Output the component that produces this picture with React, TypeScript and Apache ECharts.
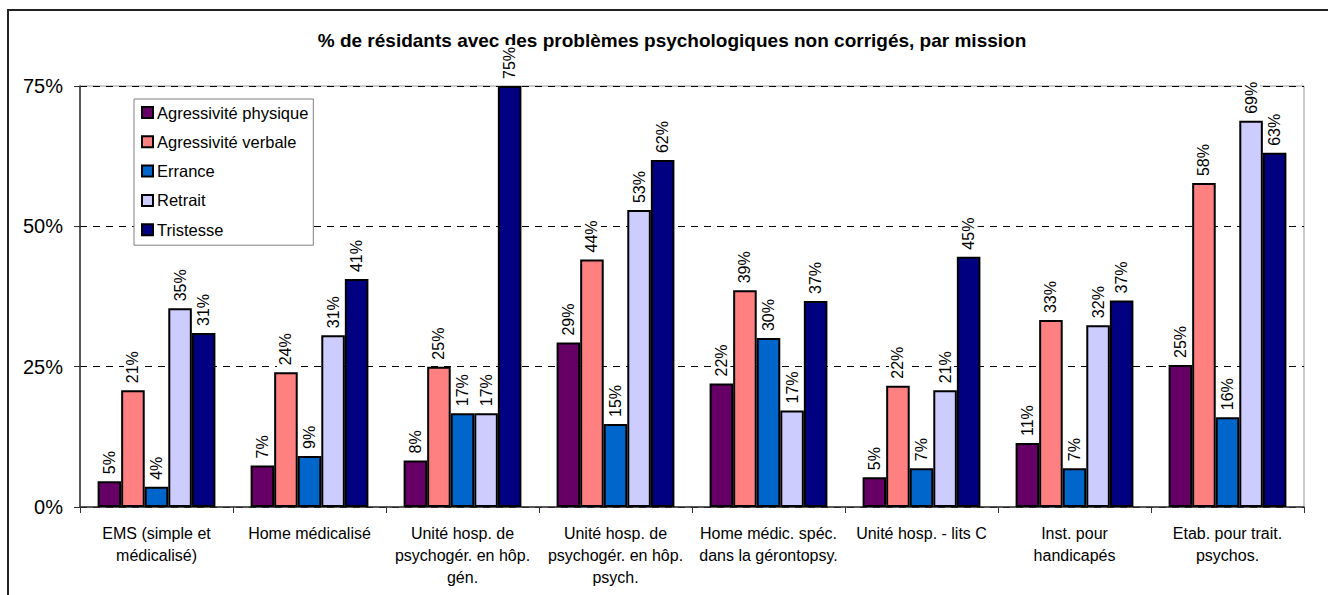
import React, { useEffect, useRef } from "react";
import * as echarts from "echarts";

const categories = [
  "EMS (simple et\nmédicalisé)",
  "Home médicalisé",
  "Unité hosp. de\npsychogér. en hôp.\ngén.",
  "Unité hosp. de\npsychogér. en hôp.\npsych.",
  "Home médic. spéc.\ndans la gérontopsy.",
  "Unité hosp. - lits C",
  "Inst. pour\nhandicapés",
  "Etab. pour trait.\npsychos.",
];

const seriesNames = [
  "Agressivité physique",
  "Agressivité verbale",
  "Errance",
  "Retrait",
  "Tristesse",
];

const agressivitePhysique = [4.6, 7.4, 8.3, 29.3, 22.0, 5.3, 11.4, 25.3];
const agressiviteVerbale = [20.8, 24.0, 25.0, 44.1, 38.6, 21.6, 33.3, 57.7];
const errance = [3.6, 9.1, 16.7, 14.8, 30.1, 6.9, 6.9, 16.0];
const retrait = [35.4, 30.6, 16.7, 52.9, 17.2, 20.8, 32.4, 68.8];
const tristesse = [31.0, 40.6, 75.0, 61.8, 36.7, 44.6, 36.8, 63.1];

const seriesValues = [agressivitePhysique, agressiviteVerbale, errance, retrait, tristesse];
const seriesColors = ["#660066", "#FF8080", "#0066CC", "#CCCCFF", "#000080"];

const yTicks = [0, 25, 50, 75];

const titleText =
  "% de résidants avec des problèmes psychologiques non corrigés, par mission";

const FONT = "'Liberation Sans', Arial, Helvetica, sans-serif";

export default function App() {
  const ref = useRef<HTMLDivElement>(null);

  useEffect(() => {
    if (!ref.current) return;
    const chart = echarts.init(ref.current, null, { renderer: "svg" });
    chart.setOption({
      animation: false,
      backgroundColor: "#ffffff",
      textStyle: { fontFamily: FONT, color: "#000" },
      graphic: [
        {
          type: "rect",
          shape: { x: 8, y: 10, width: 1340, height: 620 },
          style: { fill: "none", stroke: "#222", lineWidth: 2 },
          silent: true,
          z: -10,
        },
        {
          type: "text",
          x: 672,
          y: 40,
          style: {
            text: titleText,
            font: `bold 19px ${FONT}`,
            fill: "#000",
            textAlign: "center",
            textVerticalAlign: "middle",
          },
        },
      ],
      legend: {
        orient: "vertical",
        left: 134,
        top: 99,
        data: seriesNames,
        itemWidth: 11,
        itemHeight: 11,
        itemGap: 12.3,
        padding: [5, 5, 7, 7],
        backgroundColor: "#ffffff",
        borderColor: "#808080",
        borderWidth: 1,
        icon: "rect",
        textStyle: { fontSize: 16.5, fontFamily: FONT, color: "#000", padding: [0, 0, 0, -1] },
        z: 10,
      },
      grid: {
        left: 80,
        right: 24,
        top: 86,
        bottom: 88,
        show: true,
        borderColor: "#999",
        borderWidth: 1,
      },
      xAxis: {
        type: "category",
        data: categories,
        axisLine: { lineStyle: { color: "#333", width: 1.5 } },
        axisTick: { show: true, length: 6, alignWithLabel: false, lineStyle: { color: "#333" } },
        axisLabel: {
          interval: 0,
          fontSize: 16,
          lineHeight: 22,
          color: "#000",
          margin: 15,
          fontFamily: FONT,
        },
      },
      yAxis: {
        type: "value",
        min: yTicks[0],
        max: yTicks[yTicks.length - 1],
        interval: 25,
        axisLine: { show: true, lineStyle: { color: "#333", width: 1.5 } },
        axisTick: { show: true, length: 6, lineStyle: { color: "#333" } },
        axisLabel: {
          fontSize: 20,
          color: "#000",
          margin: 17,
          fontFamily: FONT,
          formatter: (v: number) => `${v}%`,
        },
        splitLine: {
          show: true,
          lineStyle: { color: "#000", type: [7, 6], width: 1 },
        },
      },
      series: seriesNames.map((name, i) => ({
        name,
        type: "bar",
        data: seriesValues[i],
        barGap: "0%",
        barCategoryGap: "23%",
        itemStyle: {
          color: seriesColors[i],
          borderColor: "#000",
          borderWidth: 2,
        },
        label: {
          show: true,
          position: "top",
          rotate: 90,
          align: "left",
          verticalAlign: "middle",
          distance: 5,
          fontSize: 16,
          color: "#000",
          fontFamily: FONT,
          backgroundColor: "#ffffff",
          padding: [1, 2, 1, 2],
          formatter: (p: any) => `${Math.round(p.value)}%`,
        },
      })),
    });
    return () => chart.dispose();
  }, []);

  return (
    <div
      ref={ref}
      style={{ position: "fixed", left: 0, top: 0, width: 1328, height: 595 }}
    />
  );
}
